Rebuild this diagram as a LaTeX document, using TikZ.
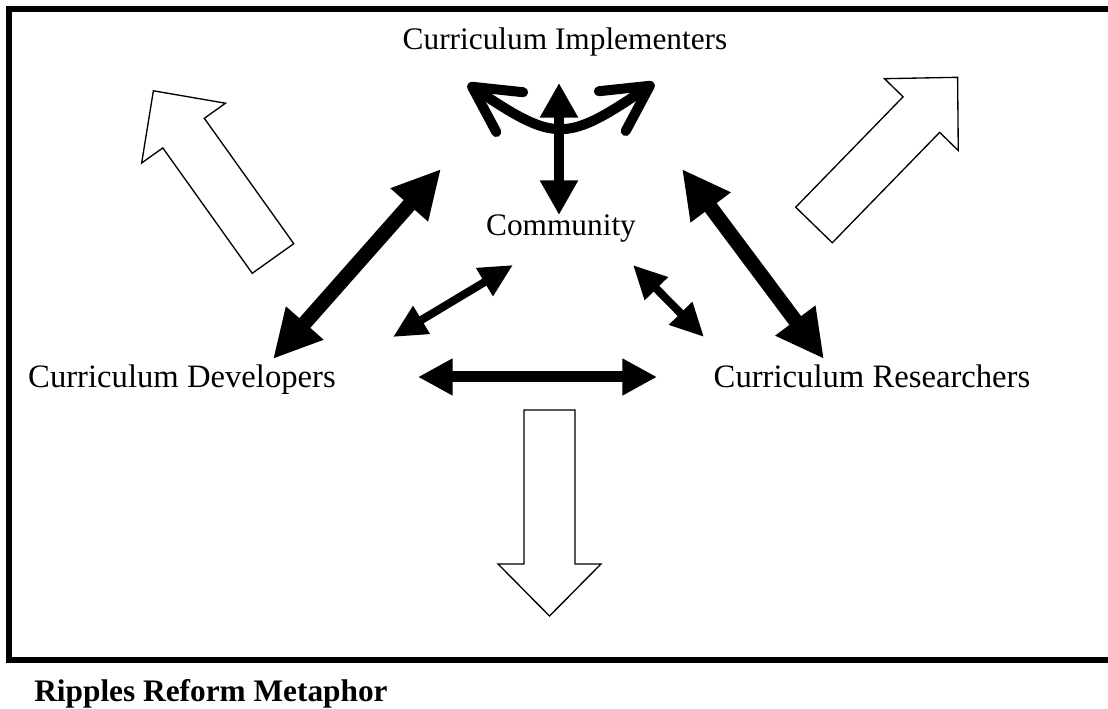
\documentclass[tikz,border=0pt]{standalone}
\usepackage{fontspec}
\setmainfont{Liberation Serif}
\usetikzlibrary{arrows.meta}

\tikzset{
    labeltext/.style={font=\fontsize{23.5}{28}\selectfont, inner sep=0pt, anchor=base},
    bigtip/.style={{Triangle[length=36pt, width=35pt]}-{Triangle[length=36pt, width=35pt]}},
    midtip/.style={{Triangle[length=26pt, width=26pt]}-{Triangle[length=26pt, width=26pt]}},
    smalltip/.style={{Triangle[length=25pt, width=23pt]}-{Triangle[length=25pt, width=23pt]}},
    barbtip/.style={{Straight Barb[length=34pt, width=36pt, round]}-{Straight Barb[length=34pt, width=36pt, round]}},
    ripple/.style={draw, line width=1pt, fill=white, line join=miter},
    ripplearrow/.pic={
        \draw[ripple] (0,-25.5) -- (154,-25.5) -- (154,-51.5) -- (206,0)
            -- (154,51.5) -- (154,25.5) -- (0,25.5) -- cycle;
    }
}

\begin{document}
\begin{tikzpicture}[x=0.75pt, y=0.75pt]
    \useasboundingbox (0,0) rectangle (1108,709);

    % frame
    \draw[line width=4.9pt, line join=miter] (1108,700) -- (9,700) -- (9,49) -- (1108,49);

    % labels
    \node[labeltext] (implementers) at (565,659) {Curriculum Implementers};
    \node[labeltext] (community) at (561,473) {Community};
    \node[labeltext, font=\fontsize{24.5}{28}\selectfont] (developers) at (182,321) {Curriculum Developers};
    \node[labeltext, font=\fontsize{24.5}{28}\selectfont] (researchers) at (872,321) {Curriculum Researchers};
    \node[labeltext, font=\fontsize{23.5}{28}\selectfont\bfseries] (caption) at (211,7) {Ripples Reform Metaphor};

    % ripple arrows
    \pic[rotate=125.5] at (273,450.5) {ripplearrow};
    \pic[rotate=45.8] at (814,484) {ripplearrow};
    \pic[rotate=-90] at (549.5,299) {ripplearrow};

    % arrow ends
    \coordinate (imp-l) at (468,625);
    \coordinate (imp-r) at (654,626);
    \coordinate (imp-b) at (559,626);
    \coordinate (com-t) at (559,494);
    \coordinate (imp-sw) at (441,540);
    \coordinate (imp-se) at (682,540);
    \coordinate (dev-ne) at (273,350);
    \coordinate (res-nw) at (824,350);
    \coordinate (com-sw) at (513,444);
    \coordinate (com-se) at (633,444);
    \coordinate (dev-e) at (393,372);
    \coordinate (res-w) at (704,372);
    \coordinate (dev-r) at (418,332);
    \coordinate (res-l) at (657,332);

    % links
    \draw[line width=7.5pt, barbtip] (imp-l) to[out=-34, in=-146, looseness=1.45] (imp-r);
    \draw[line width=7.5pt, {Triangle[length=26pt, width=27pt]}-{Triangle[length=26pt, width=27pt]}] (imp-b) -- (com-t);
    \draw[line width=11pt, bigtip] (dev-ne) -- (imp-sw);
    \draw[line width=11pt, bigtip] (imp-se) -- (res-nw);
    \draw[line width=6pt, smalltip] (dev-e) -- (com-sw);
    \draw[line width=6pt, smalltip] (com-se) -- (res-w);
    \draw[line width=8.25pt, midtip] (dev-r) -- (res-l);
\end{tikzpicture}
\end{document}
